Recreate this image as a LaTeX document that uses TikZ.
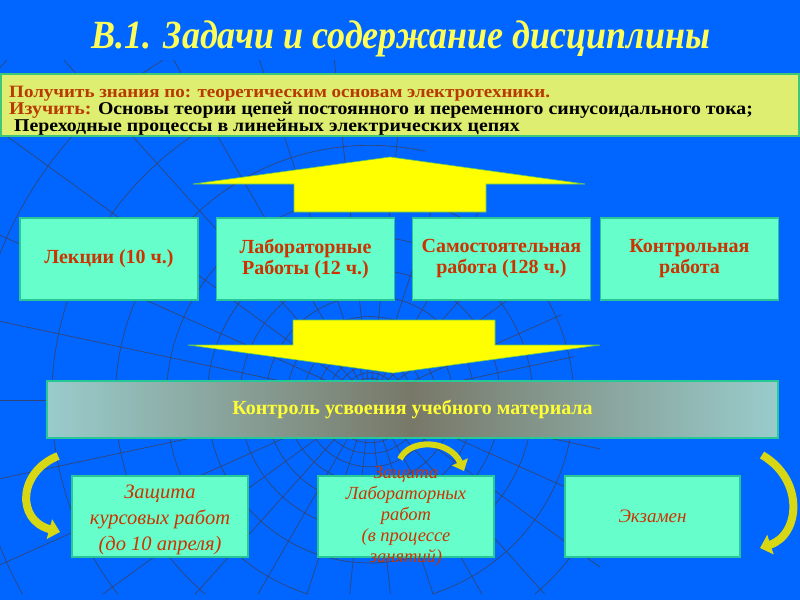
\documentclass[tikz,border=0pt]{standalone}
\usepackage{fontspec}
\setmainfont{Liberation Serif}
\newfontfamily\widefont[FakeStretch=1.1]{Liberation Serif}
\newfontfamily\titlefont[FakeStretch=0.9]{Liberation Serif}
\usetikzlibrary{arrows.meta,shadings}
\definecolor{bgblue}{RGB}{0,102,255}
\definecolor{topbox}{RGB}{221,238,112}
\definecolor{topedge}{RGB}{60,200,120}
\definecolor{aqua}{RGB}{102,255,204}
\definecolor{aquaedge}{RGB}{40,200,150}
\definecolor{redtxt}{RGB}{204,51,0}
\definecolor{browntxt}{RGB}{184,58,0}
\definecolor{titleyel}{RGB}{255,255,90}
\definecolor{ctrlyel}{RGB}{255,255,51}
\definecolor{ctrledge}{RGB}{153,204,204}
\definecolor{ctrlmid}{RGB}{120,120,104}
\definecolor{webline}{RGB}{60,64,96}
\definecolor{arrowyel}{RGB}{255,255,0}
\definecolor{arrowedge}{RGB}{100,200,80}
\definecolor{olive}{RGB}{215,215,20}
\tikzset{
  rowbox/.style={draw=aquaedge, line width=1.2pt, fill=aqua, minimum width=178pt, minimum height=82pt,
    inner sep=0pt, align=center, text=redtxt, font=\fontsize{20}{21}\selectfont\bfseries},
  lowbox/.style={draw=aquaedge, line width=1.2pt, fill=aqua, minimum width=176pt, minimum height=81pt,
    inner sep=0pt, align=center, text=redtxt},
  bigarrow/.style={fill=arrowyel, draw=arrowedge, line width=0.6pt},
  curvarrow/.style={line width=8pt, olive, -{Triangle[length=11pt,width=20pt]}},
  web/.style={webline, line width=0.7pt, opacity=0.85}
}
\begin{document}
\begin{tikzpicture}[x=1pt,y=-1pt]
\useasboundingbox (0,0) rectangle (800,600);
\fill[bgblue] (0,0) rectangle (800,600);
% background web
\begin{scope}
\clip (0,60) -- (340,60) -- (470,200) -- (560,310) -- (600,440) -- (600,594) -- (0,594) -- cycle;
\foreach \k in {0,...,17}{
  \draw[web] (370,400) circle ({14*1.25^\k});
}
\foreach \a in {0,12,...,348}{
  \draw[web] (370,400) -- ++(\a:700);
}
\end{scope}
% title
\node[text=titleyel, font=\titlefont\fontsize{40}{42}\selectfont\bfseries\itshape] (title) at (401,39) {В.1. Задачи и содержание дисциплины};
% goals box
\node[draw=topedge, line width=1.5pt, fill=topbox, minimum width=798pt, minimum height=62pt, inner sep=0pt] (goals) at (400,105) {};
\node[anchor=north west, inner sep=0pt, align=left, font=\widefont\fontsize{18}{17}\selectfont\bfseries] (goaltext) at (9,86)
 {{\fontsize{17.3}{17}\selectfont\textcolor{browntxt}{Получить знания по: теоретическим основам электротехники.}}\\
  \textcolor{browntxt}{Изучить:} Основы теории цепей постоянного и переменного синусоидального тока;\\
  \ Переходные процессы в линейных электрических цепях};
% up arrow
\draw[bigarrow] (390,157) -- (585,184) -- (486,184) -- (486,212) -- (294,212) -- (294,184) -- (193,184) -- cycle;
% row boxes
\node[rowbox] (lect) at (109,259) {Лекции (10 ч.)};
\node[rowbox] (lab) at (305.5,259) {Лабораторные\\Работы (12 ч.)};
\node[rowbox] (self) at (501.5,259) {Самостоятельная\\работа (128 ч.)};
\node[rowbox] (ctrl) at (689.5,259) {Контрольная\\работа};
% down arrow
\draw[bigarrow] (293,320) -- (495,320) -- (495,345) -- (600,345) -- (393,373) -- (188,345) -- (293,345) -- cycle;
% control box
\shade[left color=ctrledge, right color=ctrlmid] (47,381) rectangle (412,438);
\shade[left color=ctrlmid, right color=ctrledge] (412,381) rectangle (778,438);
\node[draw=aquaedge, line width=1.2pt, minimum width=731pt, minimum height=57pt, inner sep=0pt,
  text=ctrlyel, font=\fontsize{20}{21}\selectfont\bfseries] (control) at (412.5,409.5) {Контроль усвоения учебного материала};
% lower boxes
\node[lowbox, font=\fontsize{20.5}{26}\selectfont\itshape] (kurs) at (160,516.5) {};
\node[align=center, text=redtxt, font=\fontsize{20.5}{26}\selectfont\itshape] (kurstext) at (160,520) {Защита\\курсовых работ\\(до 10 апреля)};
\node[lowbox, minimum width=176pt] (labdef) at (406,516.5) {};
\node[align=center, text=redtxt, font=\fontsize{18.5}{21}\selectfont\itshape] (labtext) at (406,516) {Защита\\Лабораторных\\работ\\(в процессе\\занятий)};
\node[lowbox, minimum width=175pt, font=\fontsize{19}{21}\selectfont\itshape] (exam) at (652.5,516.5) {Экзамен};
% curved arrows
\coordinate (la) at (58,456);
\coordinate (lb) at (60,532);
\coordinate (ra) at (762,455);
\coordinate (rb) at (760,548);
\coordinate (ma) at (400,459);
\coordinate (mb) at (464,471);
\draw[curvarrow] (la) .. controls (18,472) and (16,520) .. (lb);
\draw[curvarrow] (ra) .. controls (805,480) and (800,535) .. (rb);
\draw[curvarrow, line width=6pt, -{Triangle[length=10pt,width=17pt]}] (ma) .. controls (410,438) and (450,440) .. (mb);
\end{tikzpicture}
\end{document}
